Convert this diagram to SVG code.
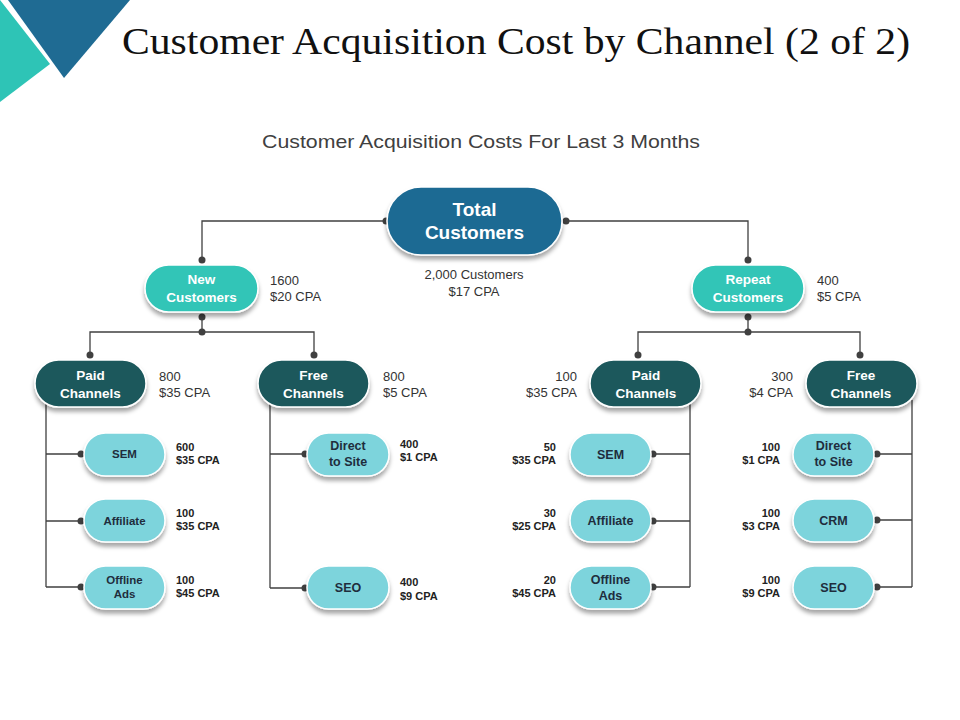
<svg xmlns="http://www.w3.org/2000/svg" width="960" height="720" viewBox="0 0 960 720">
<defs>
<filter id="sh" x="-20%" y="-20%" width="140%" height="160%">
<feDropShadow dx="0" dy="4" stdDeviation="2" flood-color="#000" flood-opacity="0.35"/>
</filter>
<style>
.total{fill:#1f6b93;stroke:#fff;stroke-width:1.5;filter:url(#sh)}
.cust{fill:#30c5b7;stroke:#fff;stroke-width:1.5;filter:url(#sh)}
.chan{fill:#1b585c;stroke:#fff;stroke-width:1.5;filter:url(#sh)}
.leaf{fill:#7dd4dc;stroke:#fff;stroke-width:1.5;filter:url(#sh)}
.wt{font-family:"Liberation Sans",Arial,sans-serif;font-weight:bold;fill:#fff;text-anchor:middle}
.dt{font-family:"Liberation Sans",Arial,sans-serif;font-weight:bold;fill:#1f2d3d;text-anchor:middle}
.lbl{font-family:"Liberation Sans",Arial,sans-serif;font-size:13px;fill:#333}
.sl{font-family:"Liberation Sans",Arial,sans-serif;font-size:11px;font-weight:bold;fill:#222}
.ln{fill:none;stroke:#404040;stroke-width:1.3}
.dot{fill:#404040}
</style>
</defs>
<rect width="960" height="720" fill="#fff"/>
<polygon points="0,0 50,64 0,102" fill="#2ec4b6"/>
<polygon points="8,0 130,0 64,78" fill="#1f6b93"/>
<text x="122" y="54" font-family="'Liberation Serif','Times New Roman',serif" font-size="37" fill="#111" textLength="788" lengthAdjust="spacingAndGlyphs">Customer Acquisition Cost by Channel (2 of 2)</text>
<text x="262" y="148" font-family="'Liberation Sans',Arial,sans-serif" font-size="19" fill="#404040" textLength="438" lengthAdjust="spacingAndGlyphs">Customer Acquisition Costs For Last 3 Months</text>

<g id="connectors">
<path class="ln" d="M387,221 H202 V260"/>
<path class="ln" d="M566,221 H748 V260"/>
<path class="ln" d="M202,317 V332 M90,355 V332 H314 V355"/>
<path class="ln" d="M748,317 V332 M638,355 V332 H860 V355"/>
<path class="ln" d="M46,400 V587 M46,454 H81 M46,521 H81 M46,587 H81"/>
<path class="ln" d="M270,400 V588 M270,454 H305 M270,588 H305"/>
<path class="ln" d="M690,400 V587 M690,454 H653 M690,521 H653 M690,587 H653"/>
<path class="ln" d="M912,400 V587 M912,454 H877 M912,520 H877 M912,587 H877"/>
<g class="dot">
<circle cx="386" cy="221" r="3.5"/><circle cx="566" cy="221" r="3.5"/>
<circle cx="202" cy="260" r="3.5"/><circle cx="748" cy="260" r="3.5"/>
<circle cx="202" cy="317" r="3.5"/><circle cx="202" cy="332" r="3.5"/>
<circle cx="748" cy="317" r="3.5"/><circle cx="748" cy="332" r="3.5"/>
<circle cx="90" cy="355" r="3.5"/><circle cx="314" cy="355" r="3.5"/>
<circle cx="638" cy="355" r="3.5"/><circle cx="860" cy="355" r="3.5"/>
<circle cx="81" cy="454" r="3.5"/><circle cx="81" cy="521" r="3.5"/><circle cx="81" cy="587" r="3.5"/>
<circle cx="305" cy="454" r="3.5"/><circle cx="305" cy="588" r="3.5"/>
<circle cx="653" cy="454" r="3.5"/><circle cx="653" cy="521" r="3.5"/><circle cx="653" cy="587" r="3.5"/>
<circle cx="877" cy="454" r="3.5"/><circle cx="877" cy="520" r="3.5"/><circle cx="877" cy="587" r="3.5"/>
</g>
</g>

<g id="total">
<rect class="total" x="387" y="187" width="175" height="68" rx="34"/>
<text class="wt" x="474.5" y="216" font-size="19">Total</text>
<text class="wt" x="474.5" y="239" font-size="19">Customers</text>
<text class="lbl" x="474" y="279" text-anchor="middle">2,000 Customers</text>
<text class="lbl" x="474" y="296" text-anchor="middle">$17 CPA</text>
</g>

<g id="new">
<rect class="cust" x="145" y="265" width="113" height="47" rx="23.5"/>
<text class="wt" x="201.5" y="284" font-size="13.5">New</text>
<text class="wt" x="201.5" y="302" font-size="13.5">Customers</text>
<text class="lbl" x="270" y="285">1600</text>
<text class="lbl" x="270" y="301">$20 CPA</text>
</g>

<g id="repeat">
<rect class="cust" x="692" y="265" width="112" height="47" rx="23.5"/>
<text class="wt" x="748" y="284" font-size="13.5">Repeat</text>
<text class="wt" x="748" y="302" font-size="13.5">Customers</text>
<text class="lbl" x="817" y="285">400</text>
<text class="lbl" x="817" y="301">$5 CPA</text>
</g>

<g id="paid-left">
<rect class="chan" x="35" y="360" width="111" height="47" rx="23.5"/>
<text class="wt" x="90.5" y="380" font-size="13.5">Paid</text>
<text class="wt" x="90.5" y="398" font-size="13.5">Channels</text>
<text class="lbl" x="159" y="381">800</text>
<text class="lbl" x="159" y="397">$35 CPA</text>
</g>

<g id="free-left">
<rect class="chan" x="258" y="360" width="111" height="47" rx="23.5"/>
<text class="wt" x="313.5" y="380" font-size="13.5">Free</text>
<text class="wt" x="313.5" y="398" font-size="13.5">Channels</text>
<text class="lbl" x="383" y="381">800</text>
<text class="lbl" x="383" y="397">$5 CPA</text>
</g>

<g id="paid-right">
<rect class="chan" x="590" y="360" width="111" height="47" rx="23.5"/>
<text class="wt" x="646" y="380" font-size="13.5">Paid</text>
<text class="wt" x="646" y="398" font-size="13.5">Channels</text>
<text class="lbl" x="577" y="381" text-anchor="end">100</text>
<text class="lbl" x="577" y="397" text-anchor="end">$35 CPA</text>
</g>

<g id="free-right">
<rect class="chan" x="806" y="360" width="111" height="47" rx="23.5"/>
<text class="wt" x="861" y="380" font-size="13.5">Free</text>
<text class="wt" x="861" y="398" font-size="13.5">Channels</text>
<text class="lbl" x="793" y="381" text-anchor="end">300</text>
<text class="lbl" x="793" y="397" text-anchor="end">$4 CPA</text>
</g>

<g id="sem-left">
<rect class="leaf" x="84" y="433" width="81" height="43" rx="21.5"/>
<text class="dt" x="124.5" y="458" font-size="11.5">SEM</text>
<text class="sl" x="176" y="451">600</text>
<text class="sl" x="176" y="464">$35 CPA</text>
</g>
<g id="affiliate-left">
<rect class="leaf" x="84" y="499" width="81" height="43" rx="21.5"/>
<text class="dt" x="124.5" y="525" font-size="11.5">Affiliate</text>
<text class="sl" x="176" y="517">100</text>
<text class="sl" x="176" y="530">$35 CPA</text>
</g>
<g id="offline-left">
<rect class="leaf" x="84" y="566" width="81" height="43" rx="21.5"/>
<text class="dt" x="124.5" y="584" font-size="11.5">Offline</text>
<text class="dt" x="124.5" y="598" font-size="11.5">Ads</text>
<text class="sl" x="176" y="584">100</text>
<text class="sl" x="176" y="597">$45 CPA</text>
</g>

<g id="direct-left">
<rect class="leaf" x="307" y="433" width="82" height="43" rx="21.5"/>
<text class="dt" x="348" y="450" font-size="12.5">Direct</text>
<text class="dt" x="348" y="466" font-size="12.5">to Site</text>
<text class="sl" x="400" y="448">400</text>
<text class="sl" x="400" y="461">$1 CPA</text>
</g>
<g id="seo-left">
<rect class="leaf" x="307" y="566" width="82" height="43" rx="21.5"/>
<text class="dt" x="348" y="592" font-size="12.5">SEO</text>
<text class="sl" x="400" y="586">400</text>
<text class="sl" x="400" y="600">$9 CPA</text>
</g>

<g id="sem-right">
<rect class="leaf" x="570" y="433" width="81" height="43" rx="21.5"/>
<text class="dt" x="610.5" y="459" font-size="12.5">SEM</text>
<text class="sl" x="556" y="451" text-anchor="end">50</text>
<text class="sl" x="556" y="464" text-anchor="end">$35 CPA</text>
</g>
<g id="affiliate-right">
<rect class="leaf" x="570" y="499" width="81" height="43" rx="21.5"/>
<text class="dt" x="610.5" y="525" font-size="12.5">Affiliate</text>
<text class="sl" x="556" y="517" text-anchor="end">30</text>
<text class="sl" x="556" y="530" text-anchor="end">$25 CPA</text>
</g>
<g id="offline-right">
<rect class="leaf" x="570" y="566" width="81" height="43" rx="21.5"/>
<text class="dt" x="610.5" y="584" font-size="12.5">Offline</text>
<text class="dt" x="610.5" y="600" font-size="12.5">Ads</text>
<text class="sl" x="556" y="584" text-anchor="end">20</text>
<text class="sl" x="556" y="597" text-anchor="end">$45 CPA</text>
</g>

<g id="direct-right">
<rect class="leaf" x="793" y="433" width="81" height="43" rx="21.5"/>
<text class="dt" x="833.5" y="450" font-size="12.5">Direct</text>
<text class="dt" x="833.5" y="466" font-size="12.5">to Site</text>
<text class="sl" x="780" y="451" text-anchor="end">100</text>
<text class="sl" x="780" y="464" text-anchor="end">$1 CPA</text>
</g>
<g id="crm-right">
<rect class="leaf" x="793" y="499" width="81" height="43" rx="21.5"/>
<text class="dt" x="833.5" y="525" font-size="12.5">CRM</text>
<text class="sl" x="780" y="517" text-anchor="end">100</text>
<text class="sl" x="780" y="530" text-anchor="end">$3 CPA</text>
</g>
<g id="seo-right">
<rect class="leaf" x="793" y="566" width="81" height="43" rx="21.5"/>
<text class="dt" x="833.5" y="592" font-size="12.5">SEO</text>
<text class="sl" x="780" y="584" text-anchor="end">100</text>
<text class="sl" x="780" y="597" text-anchor="end">$9 CPA</text>
</g>
</svg>
